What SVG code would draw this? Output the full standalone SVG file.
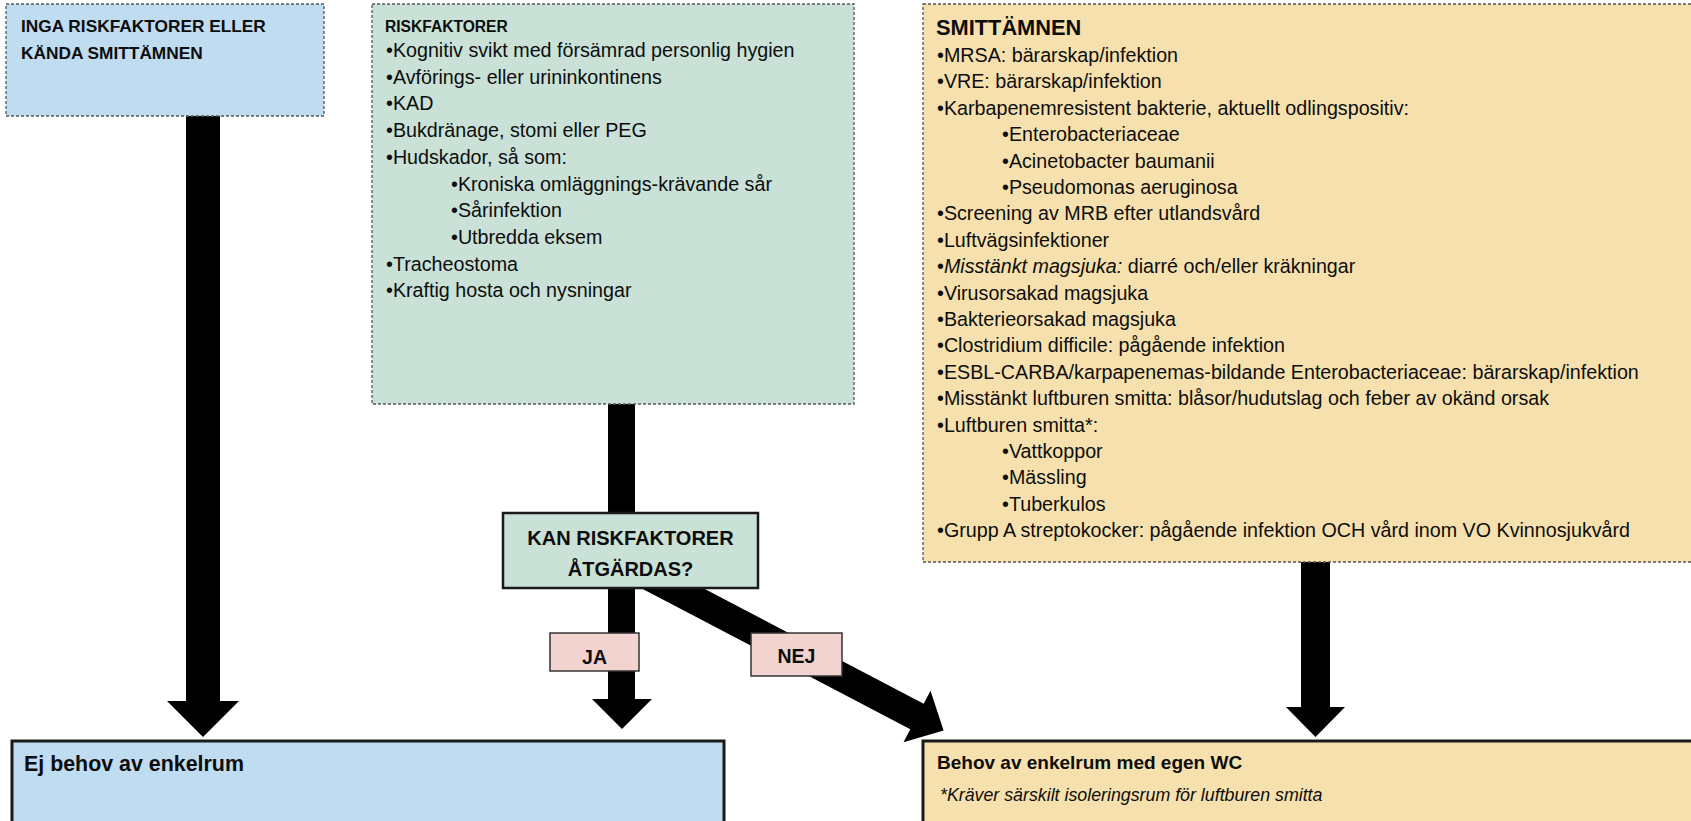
<svg xmlns="http://www.w3.org/2000/svg" width="1691" height="821" viewBox="0 0 1691 821">
<style>
text{font-family:"Liberation Sans",Arial,sans-serif;fill:#0d0d0d}
.dash{stroke:#555;stroke-width:1.3;stroke-dasharray:3 2}
.solid{stroke:#1a1a1a;stroke-width:3}
.blue{fill:#BFDCF1}
.green{fill:#C9E1D6}
.yellow{fill:#F6E1AE}
.pink{fill:#F2D3D0}
.h{font-weight:bold}
.it{font-size:19.7px}
.arrow{fill:#000}
</style>
<g id="connectors">
<polygon class="arrow" points="186,114 220,114 220,701 239,701 203,737 167,701 186,701"/>
<polygon class="arrow" points="608,402 635,402 635,699 652,699 622,729 592,699 608,699"/>
<polygon class="arrow" points="625.1,547.2 923.7,703.7 930.5,690.8 943.6,730.4 903.5,742.2 910.3,729.3 611.7,572.8"/>
<polygon class="arrow" points="1301,560 1330,560 1330,707 1345,707 1315.5,737 1286,707 1301,707"/>
</g>
<g id="node-inga">
<rect class="blue dash" x="6" y="4" width="318" height="112"/>
<text class="h" font-size="17.3" x="21" y="32">INGA RISKFAKTORER ELLER</text>
<text class="h" font-size="17.3" x="21" y="59">KÄNDA SMITTÄMNEN</text>
</g>
<g id="node-riskfaktorer">
<rect class="green dash" x="372" y="4" width="482" height="400"/>
<text class="h" font-size="15.6" x="385" y="32">RISKFAKTORER</text>
<g class="it">
<text x="386" y="57">•Kognitiv svikt med försämrad personlig hygien</text>
<text x="386" y="83.7">•Avförings- eller urininkontinens</text>
<text x="386" y="110.4">•KAD</text>
<text x="386" y="137">•Bukdränage, stomi eller PEG</text>
<text x="386" y="163.8">•Hudskador, så som:</text>
<text x="451" y="190.5">•Kroniska omläggnings-krävande sår</text>
<text x="451" y="217">•Sårinfektion</text>
<text x="451" y="244">•Utbredda eksem</text>
<text x="386" y="270.6">•Tracheostoma</text>
<text x="386" y="297.3">•Kraftig hosta och nysningar</text>
</g>
</g>
<g id="node-smittamnen">
<rect class="yellow dash" x="923" y="4" width="780" height="558"/>
<text class="h" font-size="21.8" x="936" y="35">SMITTÄMNEN</text>
<g class="it">
<text x="937" y="62">•MRSA: bärarskap/infektion</text>
<text x="937" y="88.4">•VRE: bärarskap/infektion</text>
<text x="937" y="114.8">•Karbapenemresistent bakterie, aktuellt odlingspositiv:</text>
<text x="1002" y="141.2">•Enterobacteriaceae</text>
<text x="1002" y="167.6">•Acinetobacter baumanii</text>
<text x="1002" y="194">•Pseudomonas aeruginosa</text>
<text x="937" y="220.4">•Screening av MRB efter utlandsvård</text>
<text x="937" y="246.8">•Luftvägsinfektioner</text>
<text x="937" y="273.2">•<tspan font-style="italic">Misstänkt magsjuka:</tspan> diarré och/eller kräkningar</text>
<text x="937" y="299.6">•Virusorsakad magsjuka</text>
<text x="937" y="326">•Bakterieorsakad magsjuka</text>
<text x="937" y="352.4">•Clostridium difficile: pågående infektion</text>
<text x="937" y="378.8">•ESBL-CARBA/karpapenemas-bildande Enterobacteriaceae: bärarskap/infektion</text>
<text x="937" y="405.2">•Misstänkt luftburen smitta: blåsor/hudutslag och feber av okänd orsak</text>
<text x="937" y="431.6">•Luftburen smitta*:</text>
<text x="1002" y="458">•Vattkoppor</text>
<text x="1002" y="484.4">•Mässling</text>
<text x="1002" y="510.8">•Tuberkulos</text>
<text x="937" y="537.2">•Grupp A streptokocker: pågående infektion OCH vård inom VO Kvinnosjukvård</text>
</g>
</g>
<g id="node-kan">
<rect class="green" x="503" y="513" width="255" height="75" stroke="#1a1a1a" stroke-width="2.5"/>
<text class="h" font-size="20" x="630.5" y="545" text-anchor="middle">KAN RISKFAKTORER</text>
<text class="h" font-size="20" x="630.5" y="576" text-anchor="middle">ÅTGÄRDAS?</text>
</g>
<g id="label-ja">
<rect class="pink" x="550" y="633" width="89" height="38" stroke="#333" stroke-width="1.5"/>
<text class="h" font-size="19.5" x="594.5" y="664" text-anchor="middle">JA</text>
</g>
<g id="label-nej">
<rect class="pink" x="751" y="633" width="91" height="43" stroke="#333" stroke-width="1.5"/>
<text class="h" font-size="19.5" x="796.5" y="663" text-anchor="middle">NEJ</text>
</g>
<g id="node-ej-behov">
<rect class="blue solid" x="12" y="741" width="712" height="100"/>
<text class="h" font-size="21.4" x="24" y="771">Ej behov av enkelrum</text>
</g>
<g id="node-behov">
<rect class="yellow solid" x="923" y="741" width="800" height="100"/>
<text class="h" font-size="19" x="937" y="769">Behov av enkelrum med egen WC</text>
<text font-size="17.8" font-style="italic" x="940" y="801">*Kräver särskilt isoleringsrum för luftburen smitta</text>
</g>
</svg>
